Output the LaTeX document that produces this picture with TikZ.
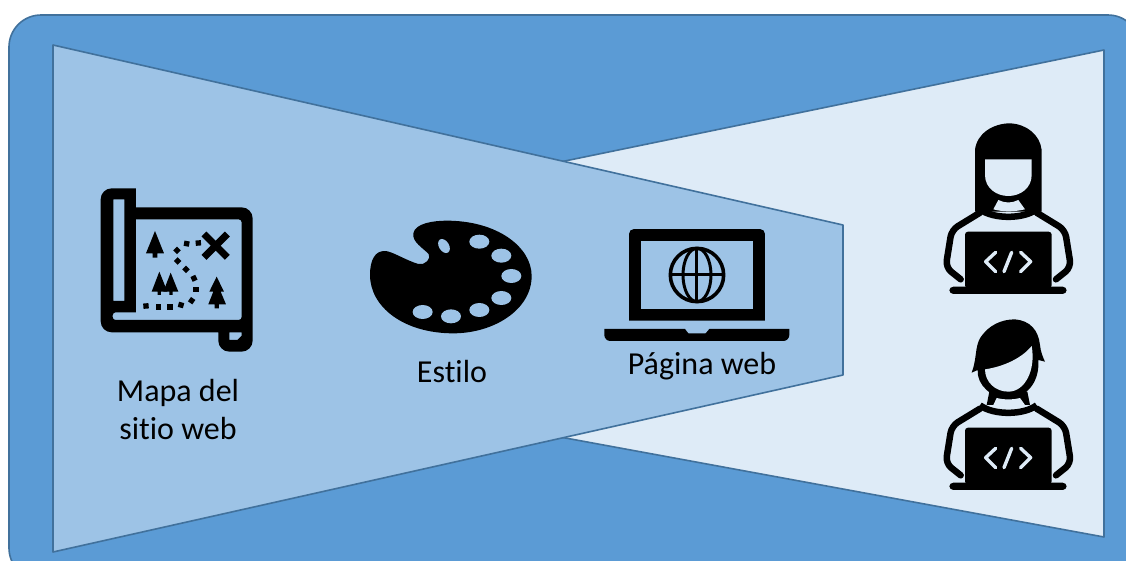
\documentclass[tikz,border=0pt]{standalone}
\usepackage{fontspec}
\setmainfont[Ligatures=NoCommon]{Carlito}
\definecolor{midblue}{HTML}{5B9BD5}
\definecolor{lightblue}{HTML}{9DC3E6}
\definecolor{paleblue}{HTML}{DEEBF7}
\definecolor{edgeblue}{HTML}{41719C}
\tikzset{
  panel/.style={draw=edgeblue,line width=1.6pt,line join=round},
  caption/.style={font=\fontsize{32}{38}\selectfont,align=center,text=black},
}
\begin{document}
\begin{tikzpicture}
    [
      x=1pt,y=-1pt,
    ]
    \useasboundingbox (0,0) rectangle (1126,560);
    \clip (0,0) rectangle (1126,560);
    %
    \draw [panel,fill=midblue,rounded corners=32pt] (9,15) rectangle (1140,580);
    \draw [panel,fill=paleblue] (1104,50) -- (560,162) -- (560,437) -- (1104,537) -- cycle;
    \draw [panel,fill=lightblue] (53,45) -- (843,225) -- (843,375) -- (53,552) -- cycle;

    % map
    \begin{scope}[shift={(80,170)},scale=.3333]
      \fill [even odd rule] (62,250) [rounded corners=11pt] -- (62,55) [sharp corners] -- (168,55) -- (168,112)
        [rounded corners=11pt] -- (518,112) -- (518,545) -- (415,545) [sharp corners] -- (415,487)
        [rounded corners=11pt] -- (62,487) -- cycle
        [sharp corners] (100,88) -- (133,88) -- (133,393) -- (100,393) -- cycle
        (168,148) [rounded corners=3pt] -- (485,148) -- (485,450) -- (98,450) -- (98,427) [sharp corners] -- (168,427) -- cycle
        (448,487) -- (485,487) -- (485,497) -- (472,510) -- (448,510) -- cycle;
      % trees
      \fill (225,183) -- (252,250) -- (232,250) -- (232,263) -- (218,263) -- (218,250) -- (198,250) -- cycle;
      \fill (238,305) -- (262,365) -- (243,365) -- (243,375) -- (233,375) -- (233,365) -- (215,365) -- cycle;
      \fill (272,308) -- (295,365) -- (278,365) -- (278,375) -- (268,375) -- (268,365) -- (250,365) -- cycle;
      \fill (410,320) -- (432,365) -- (422,365) -- (438,403) -- (417,403) -- (417,415) -- (404,415) -- (404,403) -- (385,403) -- (400,365) -- (388,365) -- cycle;
      \draw [line width=7pt] (372,192) -- (442,262);
      \draw [line width=7pt] (442,192) -- (372,262);
      % dotted trail
      \foreach \x/\y/\r in {198/408/5, 235/411/0, 270/411/0, 303/405/-15, 335/392/-35, 348/358/0,
        342/325/25, 318/298/45, 293/273/45, 291/241/45, 320/221/-10, 355/219/5} {
        \fill [rotate around={\r:(\x,\y)}] (\x - 8, \y - 8) rectangle (\x + 8, \y + 8);
      }
    \end{scope}

    % palette
    \begin{scope}[shift={(350,200)},scale=.3333]
      \fill (190,100) .. controls (195,70) and (250,62) .. (290,62)
        .. controls (440,62) and (545,140) .. (545,228)
        .. controls (545,330) and (430,400) .. (310,400)
        .. controls (160,400) and (60,320) .. (60,225)
        .. controls (60,180) and (75,152) .. (105,153)
        .. controls (125,153) and (165,180) .. (205,192)
        .. controls (225,197) and (245,175) .. (236,162)
        .. controls (220,145) and (185,125) .. (190,100) -- cycle;
      \foreach \x/\y in {388/125, 454/167, 484/228, 454/294, 388/330, 303/349, 218/336} {
        \fill [lightblue] (\x,\y) ellipse [x radius=30,y radius=21];
      }
      \fill [lightblue,rotate around={-58:(282,138)}] (282,138) ellipse [x radius=23,y radius=15];
    \end{scope}

    % laptop
    \begin{scope}[shift={(590,210)},scale=.3333]
      \fill [rounded corners=5pt] (117,332) [sharp corners] -- (117,200) [rounded corners=5pt] -- (117,57) -- (525,57) -- (525,200) [sharp corners] -- (525,332) -- cycle;
      \fill [lightblue] (152,92) rectangle (490,297);
      \fill (43,357) -- (285,357) -- (295,370) -- (347,370) -- (358,357) -- (598,357)
        [rounded corners=6pt] -- (598,393) -- (43,393) [sharp corners] -- cycle;
      \draw [line width=3.6pt] (321,195) circle (80);
      \draw [line width=3pt] (321,195) ellipse [x radius=42,y radius=80];
      \draw [line width=3pt] (321,115) -- (321,275);
      \draw [line width=3pt] (241,195) -- (401,195);
    \end{scope}

    % coder bodies
    \foreach \y in {120,316} {
      \begin{scope}[shift={(930,\y)},scale=.3333]
        \draw [line width=6.5pt,rounded corners=7pt,line cap=round] (92,478) -- (47,442) -- (65,330) -- (150,278);
        \draw [line width=6.5pt,rounded corners=7pt,line cap=round] (378,478) -- (423,442) -- (405,330) -- (320,278);
        \draw [line width=6.5pt] (150,268) .. controls (190,298) and (280,298) .. (320,268);
        \fill [rounded corners=3pt] (105,505) -- (105,335) -- (365,335) -- (365,505) -- cycle;
        \fill [rounded corners=4pt] (58,500) rectangle (410,522);
        \draw [paleblue,line width=3.4pt,line cap=round,line join=round] (197,397) -- (167,425) -- (197,455);
        \draw [paleblue,line width=3.4pt,line cap=round,line join=round] (272,397) -- (302,425) -- (272,455);
        \draw [paleblue,line width=3.4pt,line cap=round] (245,397) -- (222,455);
      \end{scope}
    }

    % coder heads
    \begin{scope}[shift={(930,120)},scale=.3333]
      \fill (135,275) -- (135,90) .. controls (140,40) and (190,10) .. (240,10)
        .. controls (290,12) and (330,45) .. (335,90) -- (335,275) -- cycle;
      \fill [paleblue] (165,118) -- (305,118) -- (305,165) .. controls (305,205) and (270,228) .. (235,228)
        .. controls (200,228) and (165,205) .. (165,165) -- cycle;
      \fill [paleblue] (205,240) .. controls (225,250) and (245,250) .. (265,240) -- (285,268)
        .. controls (250,276) and (220,276) .. (190,268) -- cycle;
    \end{scope}
    \begin{scope}[shift={(930,310)},scale=.3333]
      \fill (125,188) .. controls (140,150) and (135,110) .. (150,85) .. controls (175,45) and (215,28) .. (255,28)
        .. controls (300,32) and (325,60) .. (330,105) .. controls (332,125) and (338,140) .. (345,155)
        -- (325,150) .. controls (330,220) and (285,265) .. (235,265)
        .. controls (185,265) and (140,225) .. (143,180) -- cycle;
      \fill (178,245) -- (292,245) -- (300,285) -- (170,285) -- cycle;
      \fill [paleblue] (165,178) .. controls (220,170) and (275,145) .. (305,108)
        .. controls (318,180) and (285,245) .. (235,245)
        .. controls (195,245) and (165,215) .. (165,178) -- cycle;
      \fill [paleblue] (200,264) .. controls (225,270) and (245,270) .. (270,264) -- (285,285)
        .. controls (250,293) and (220,293) .. (190,285) -- cycle;
    \end{scope}

    % labels
    \node [caption] (maplabel) at (178,409) {Mapa del\\sitio web};
    \node [caption] (stylelabel) at (452,371) {Estilo};
    \node [caption] (pagelabel) at (702,366) {Página web};
\end{tikzpicture}
\end{document}
